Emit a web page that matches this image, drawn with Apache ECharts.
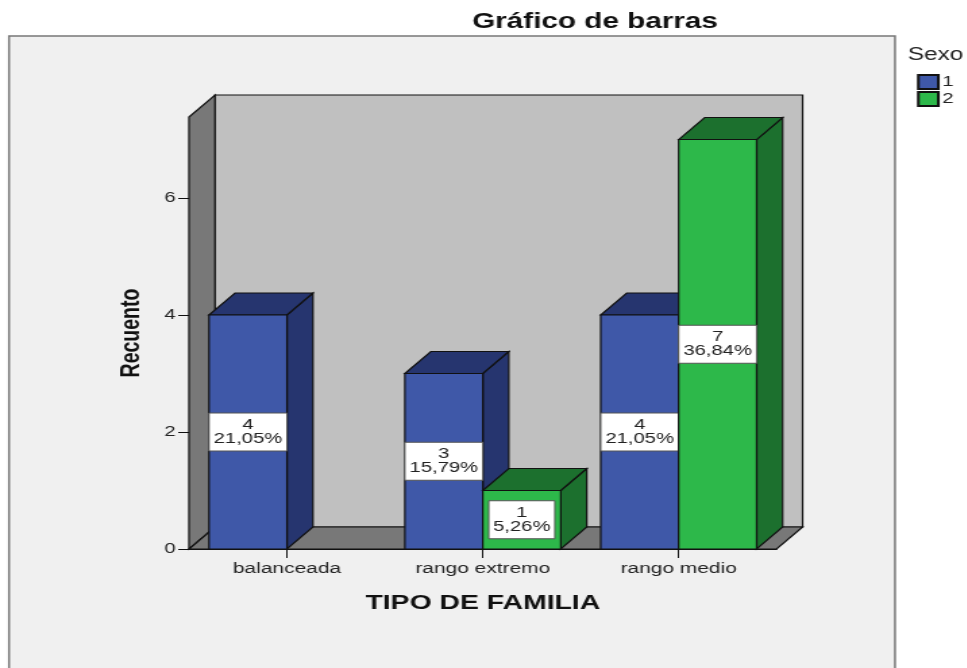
<!DOCTYPE html>
<html>
<head>
<meta charset="utf-8">
<style>
  html, body { margin: 0; padding: 0; background: #fff; overflow: hidden; }
  #chart { height: 668px; transform-origin: 0 0; }
</style>
<script src="https://cdn.jsdelivr.net/npm/echarts@6/dist/echarts.min.js"></script>
</head>
<body>
<div id="chart"></div>
<script>
const categories = ['balanceada', 'rango extremo', 'rango medio']
const counts1 = [4, 3, 4]
const counts2 = [null, 1, 7]
const percents1 = ['21,05%', '15,79%', '21,05%']
const percents2 = [null, '5,26%', '36,84%']
const tickValues = [0, 2, 4, 6]

// the original picture is stretched sideways, so the whole chart is too
const stretch = 1.35
const px = v => v / stretch
const font = 'Liberation Sans'
const depthX = px(26)
const depthY = 22

const chartDom = document.getElementById('chart')
chartDom.style.width = px(967) + 'px'
chartDom.style.transform = 'scaleX(' + stretch + ')'

function poly (points, fill) {
  return {
    type: 'polygon',
    shape: { points },
    style: { fill, stroke: '#111', lineWidth: 1.2 }
  }
}

function renderWalls (params, api) {
  const cs = params.coordSys
  const l = cs.x
  const r = cs.x + cs.width
  const t = cs.y
  const b = cs.y + cs.height
  return {
    type: 'group',
    children: [
      poly([[l + depthX, t - depthY], [r + depthX, t - depthY], [r + depthX, b - depthY], [l + depthX, b - depthY]], '#c0c0c0'),
      poly([[l, t], [l + depthX, t - depthY], [l + depthX, b - depthY], [l, b]], '#787878'),
      poly([[l, b], [l + depthX, b - depthY], [r + depthX, b - depthY], [r, b]], '#787878')
    ]
  }
}

function barRenderer (side, front, dark) {
  return function (params, api) {
    const cat = api.value(0)
    const val = api.value(1)
    const band = api.size([1, 0])[0]
    const w = band * 0.398
    const top = api.coord([cat, val])
    const base = api.coord([cat, 0])
    const mid = api.coord([cat, val / 2])
    const x0 = side < 0 ? top[0] - w : top[0]
    const x1 = x0 + w
    const boxW = val < 2 ? px(66) : w
    const boxH = 38
    const cx = (x0 + x1) / 2
    return {
      type: 'group',
      children: [
        poly([[x1, top[1]], [x1 + depthX, top[1] - depthY], [x1 + depthX, base[1] - depthY], [x1, base[1]]], dark),
        poly([[x0, top[1]], [x0 + depthX, top[1] - depthY], [x1 + depthX, top[1] - depthY], [x1, top[1]]], dark),
        poly([[x0, top[1]], [x1, top[1]], [x1, base[1]], [x0, base[1]]], front),
        {
          type: 'rect',
          shape: { x: cx - boxW / 2, y: mid[1] - boxH / 2, width: boxW, height: boxH },
          style: { fill: '#fff', stroke: '#555', lineWidth: 1 }
        },
        {
          type: 'text',
          x: cx,
          y: mid[1],
          style: {
            text: val + '\n' + api.value(2),
            fill: '#222',
            font: '15px "' + font + '"',
            lineHeight: 14,
            align: 'center',
            verticalAlign: 'middle'
          }
        }
      ]
    }
  }
}

function barData (counts, percents) {
  const data = []
  counts.forEach((c, i) => {
    if (c !== null) data.push([i, c, percents[i]])
  })
  return data
}

const option = {
  animation: false,
  backgroundColor: '#fff',
  title: [
    {
      text: 'Gráfico de barras',
      left: px(595),
      top: 9,
      padding: 0,
      textAlign: 'center',
      textStyle: { fontFamily: font, fontWeight: 'bold', fontSize: 22, lineHeight: 26, color: '#111' }
    },
    {
      text: 'Sexo',
      left: px(908),
      top: 45,
      padding: 0,
      textStyle: { fontFamily: font, fontWeight: 'normal', fontSize: 18, lineHeight: 20, color: '#222' }
    }
  ],
  legend: {
    data: ['1', '2'],
    orient: 'vertical',
    left: px(917),
    top: 74,
    padding: 0,
    itemWidth: px(20),
    itemHeight: 14,
    itemGap: 1,
    icon: 'rect',
    textStyle: { fontFamily: font, fontSize: 15, color: '#222', padding: [0, 0, 0, -2] }
  },
  grid: {
    left: px(189),
    right: px(967 - 777),
    top: 117,
    bottom: 668 - 549
  },
  xAxis: {
    type: 'category',
    data: categories,
    name: 'TIPO DE FAMILIA',
    nameLocation: 'middle',
    nameGap: 44,
    nameTextStyle: { fontFamily: font, fontWeight: 'bold', fontSize: 21, color: '#111' },
    axisLine: { lineStyle: { color: '#111', width: 1.2 } },
    axisTick: { show: true, alignWithLabel: true, length: 9, lineStyle: { color: '#111' } },
    axisLabel: { fontFamily: font, fontSize: 15.5, color: '#222', margin: 12 }
  },
  yAxis: {
    type: 'value',
    min: 0,
    max: 7.385,
    interval: 2,
    name: 'Recuento',
    nameLocation: 'middle',
    nameRotate: 90,
    nameGap: 32,
    nameTextStyle: { fontFamily: font, fontWeight: 'bold', fontSize: 19.5, color: '#111' },
    axisLine: { show: true, lineStyle: { color: '#111', width: 1.2 } },
    axisTick: { show: true, length: 8, customValues: tickValues, lineStyle: { color: '#111' } },
    axisLabel: { fontFamily: font, fontSize: 15, color: '#222', margin: 10, customValues: tickValues },
    splitLine: { show: false }
  },
  graphic: [
    {
      type: 'rect',
      z: -1,
      shape: { x: px(9), y: 36, width: px(886), height: 660 },
      style: { fill: '#f0f0f0', stroke: '#777', lineWidth: 1.5 }
    }
  ],
  series: [
    {
      name: 'walls',
      type: 'custom',
      z: 1,
      silent: true,
      data: [[0, 0]],
      renderItem: renderWalls
    },
    {
      name: '1',
      type: 'custom',
      z: 3,
      itemStyle: { color: '#3f58a8', borderColor: '#111', borderWidth: 1 },
      data: barData(counts1, percents1),
      encode: { x: 0, y: 1 },
      renderItem: barRenderer(-1, '#3f58a8', '#26356f')
    },
    {
      name: '2',
      type: 'custom',
      z: 4,
      itemStyle: { color: '#2db84a', borderColor: '#111', borderWidth: 1 },
      data: barData(counts2, percents2),
      encode: { x: 0, y: 1 },
      renderItem: barRenderer(1, '#2db84a', '#1c702e')
    }
  ]
}

const myChart = echarts.init(chartDom)
myChart.setOption(option)
</script>
</body>
</html>
